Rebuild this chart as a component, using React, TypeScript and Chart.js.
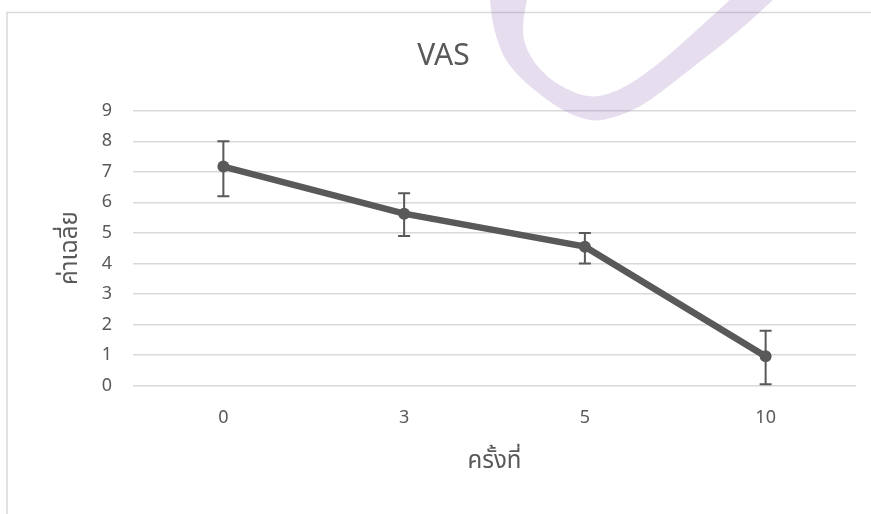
import React, { useEffect, useRef } from "react";
import { Chart, registerables } from "chart.js";

Chart.register(...registerables);

const categories = ["0", "3", "5", "10"];
const meanValues = [7.17, 5.63, 4.55, 0.96];
const errorHigh = [8.0, 6.3, 5.0, 1.8];
const errorLow = [6.2, 4.9, 4.0, 0.05];
const yMin = 0;
const yMax = 9;
const yStep = 1;
const chartTitle = "VAS";
const xTitle = "ครั้งที่";
const yTitle = "ค่าเฉลี่ย";

const GRAY = "#595959";
const GRID = "#d9d9d9";
const LATIN = "'Noto Sans', 'Open Sans', sans-serif";
const THAI = "'Noto Sans Thai', 'Noto Sans', 'DejaVu Sans', sans-serif";

// decorative watermark outline (page decoration, not data)
const wmOuter: [number, number][] = [
  [489, -6], [490, 0], [492, 20], [497, 40], [505, 60], [522, 80], [547, 100], [567, 113],
  [593, 122], [617, 117], [640, 107], [660, 93], [693, 67], [737, 33], [773, 0], [779, -6],
];
const wmInner: [number, number][] = [
  [735, -6], [730, 0], [700, 27], [667, 57], [637, 80], [613, 93], [590, 98], [567, 90],
  [547, 77], [532, 60], [523, 40], [523, 20], [527, 0], [528, -6],
];

function smoothPath(ctx: CanvasRenderingContext2D, pts: [number, number][], first: boolean) {
  if (first) ctx.moveTo(pts[0][0], pts[0][1]);
  else ctx.lineTo(pts[0][0], pts[0][1]);
  for (let i = 1; i < pts.length - 1; i++) {
    const mx = (pts[i][0] + pts[i + 1][0]) / 2;
    const my = (pts[i][1] + pts[i + 1][1]) / 2;
    ctx.quadraticCurveTo(pts[i][0], pts[i][1], mx, my);
  }
  const last = pts[pts.length - 1];
  ctx.lineTo(last[0], last[1]);
}

const framePlugin = {
  id: "frame",
  beforeDraw(chart: any) {
    const ctx = chart.ctx;
    ctx.save();
    ctx.fillStyle = "#ffffff";
    ctx.fillRect(0, 0, chart.width, chart.height);
    ctx.strokeStyle = GRID;
    ctx.lineWidth = 1.5;
    ctx.strokeRect(7, 12.5, chart.width + 50, chart.height + 50);
    ctx.restore();
  },
};

const errorBarPlugin = {
  id: "errorBars",
  beforeDatasetsDraw(chart: any) {
    const ctx = chart.ctx;
    const meta = chart.getDatasetMeta(0);
    const ys = chart.scales.y;
    ctx.save();
    ctx.strokeStyle = GRAY;
    ctx.lineWidth = 2;
    meta.data.forEach((pt: any, i: number) => {
      const x = pt.x;
      const yHi = ys.getPixelForValue(errorHigh[i]);
      const yLo = ys.getPixelForValue(errorLow[i]);
      ctx.beginPath();
      ctx.moveTo(x, yHi);
      ctx.lineTo(x, yLo);
      ctx.moveTo(x - 6, yHi);
      ctx.lineTo(x + 6, yHi);
      ctx.moveTo(x - 6, yLo);
      ctx.lineTo(x + 6, yLo);
      ctx.stroke();
    });
    ctx.restore();
  },
};

const watermarkPlugin = {
  id: "watermark",
  afterDraw(chart: any) {
    const ctx = chart.ctx;
    ctx.save();
    ctx.beginPath();
    smoothPath(ctx, wmOuter, true);
    smoothPath(ctx, wmInner, false);
    ctx.closePath();
    ctx.fillStyle = "rgba(140, 100, 180, 0.22)";
    ctx.fill();
    ctx.restore();
  },
};

export default function App() {
  const ref = useRef<HTMLCanvasElement | null>(null);

  useEffect(() => {
    document.body.style.margin = "0";
    const canvas = ref.current;
    if (!canvas) return;
    const chart = new Chart(canvas, {
      type: "line",
      data: {
        labels: categories,
        datasets: [
          {
            data: meanValues,
            borderColor: GRAY,
            backgroundColor: GRAY,
            borderWidth: 6.5,
            pointRadius: 6,
            pointBackgroundColor: GRAY,
            pointBorderWidth: 0,
            tension: 0,
          },
        ],
      },
      options: {
        animation: false,
        responsive: false,
        devicePixelRatio: 1,
        layout: { padding: { top: 20, left: 31, right: 15, bottom: 0 } },
        plugins: {
          legend: { display: false },
          tooltip: { enabled: false },
          title: {
            display: true,
            text: chartTitle,
            color: GRAY,
            font: { family: LATIN, size: 30, weight: "normal" },
            padding: { top: 18, bottom: 36.7 },
          },
        },
        scales: {
          x: {
            type: "category",
            offset: true,
            grid: { display: false, drawTicks: false },
            border: { display: false },
            ticks: { color: GRAY, font: { family: LATIN, size: 18 }, padding: 21 },
            title: {
              display: true,
              text: xTitle,
              color: GRAY,
              font: { family: THAI, size: 24 },
              padding: { top: 0, bottom: 36.6 },
            },
            afterFit: (s: any) => {
              s.height = 128.3;
            },
          },
          y: {
            min: yMin,
            max: yMax,
            grid: { color: GRID, lineWidth: 1.5, drawTicks: false },
            border: { display: false },
            ticks: {
              stepSize: yStep,
              color: GRAY,
              font: { family: LATIN, size: 18 },
              padding: 21,
            },
            title: {
              display: true,
              text: yTitle,
              color: GRAY,
              font: { family: THAI, size: 24 },
              padding: { top: 27, bottom: 0 },
            },
            afterFit: (s: any) => {
              s.width = 102;
            },
          },
        },
      } as any,
      plugins: [framePlugin, errorBarPlugin, watermarkPlugin],
    });
    return () => chart.destroy();
  }, []);

  return (
    <div style={{ width: 871, height: 514, position: "relative" }}>
      <canvas ref={ref} width={871} height={514} style={{ display: "block" }} />
    </div>
  );
}
